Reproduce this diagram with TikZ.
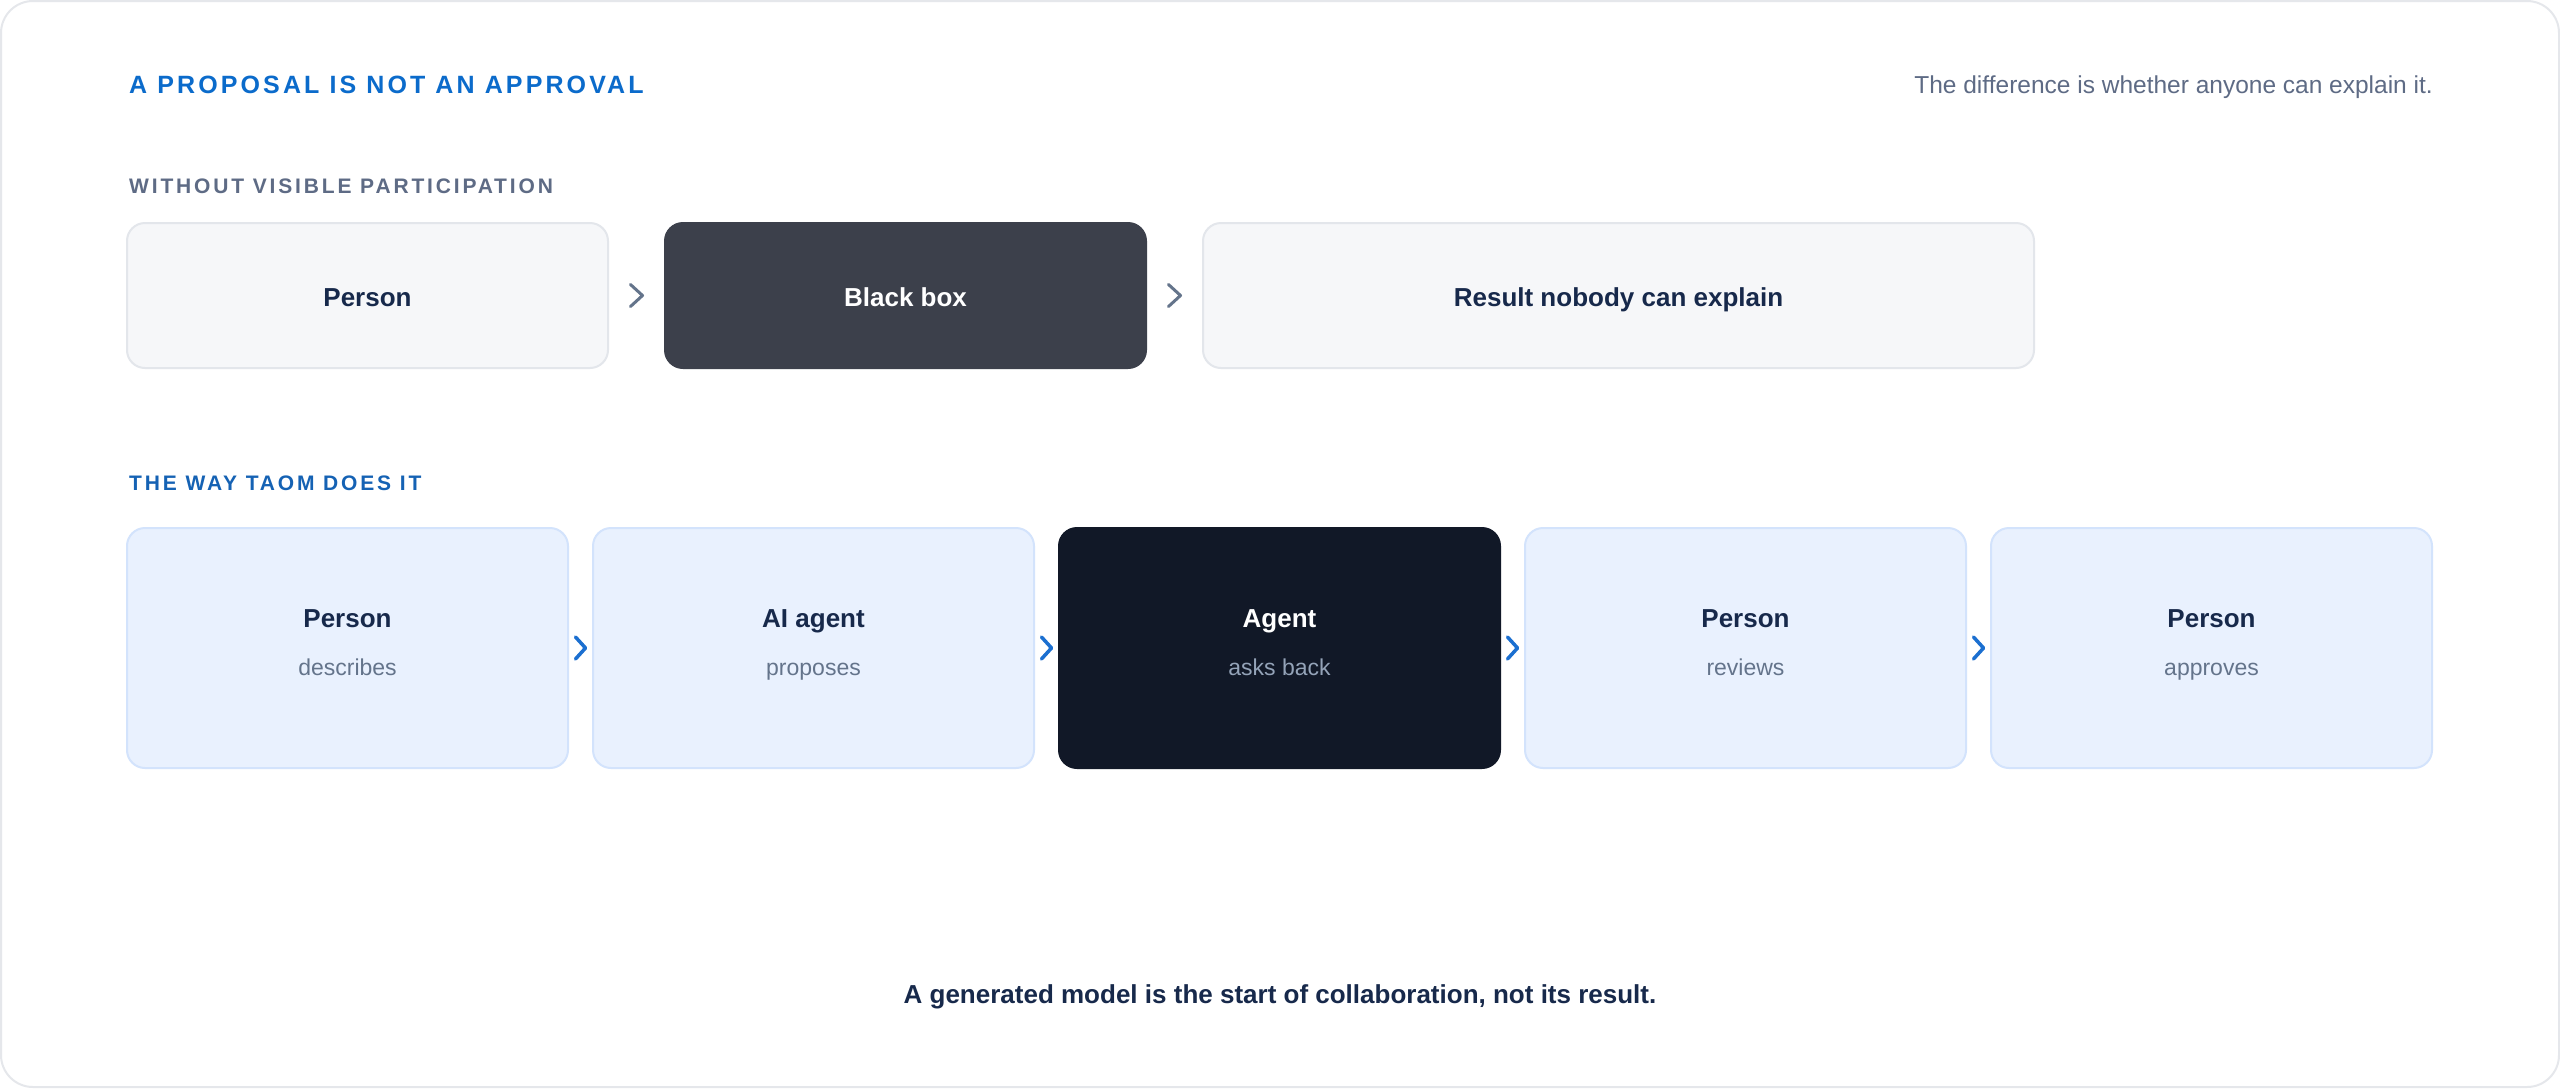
\documentclass[tikz,border=0pt]{standalone}
\usepackage{fontspec}
\setmainfont{Liberation Sans}
\newfontfamily\spacedfont[LetterSpace=13.5]{Liberation Sans}
\newfontfamily\titlefont[LetterSpace=12.5]{Liberation Sans}
\usepackage{tikz}
\usetikzlibrary{calc}

\definecolor{frameline}{HTML}{E5E7EB}
\definecolor{titleblue}{HTML}{0B6BCB}
\definecolor{labelblue}{HTML}{1562B4}
\definecolor{labelgrey}{HTML}{5E6B85}
\definecolor{navy}{HTML}{17294B}
\definecolor{subgrey}{HTML}{64748B}
\definecolor{greyfill}{HTML}{F6F7F9}
\definecolor{greyline}{HTML}{E3E6EB}
\definecolor{blackfill}{HTML}{3C404B}
\definecolor{bluefill}{HTML}{E9F1FE}
\definecolor{blueline}{HTML}{D3E3FC}
\definecolor{darkfill}{HTML}{111827}
\definecolor{paleslate}{HTML}{94A3B8}
\definecolor{chevblue}{HTML}{1B6FD0}

\begin{document}
\begin{tikzpicture}[x=1pt, y=-1pt,
		grey_box/.style={rectangle, rounded corners=18, line width=2, draw=greyline, fill=greyfill, minimum width=481, minimum height=145},
		black_box/.style={grey_box, draw=blackfill, fill=blackfill},
		blue_box/.style={rectangle, rounded corners=18, line width=2, draw=blueline, fill=bluefill, minimum width=441, minimum height=240},
		dark_box/.style={blue_box, draw=darkfill, fill=darkfill},
		head_text/.style={inner sep=0, anchor=base, text=navy, font=\fontsize{26}{30}\selectfont\bfseries},
		sub_text/.style={inner sep=0, anchor=base, text=subgrey, font=\fontsize{23}{28}\selectfont},
		label_text/.style={inner sep=0, anchor=base west, font=\spacedfont\fontsize{21}{26}\selectfont\bfseries},
		chevron_style/.style={line width=3.5, line cap=round, line join=round}]

		\useasboundingbox (0,0) rectangle (2560,1088);
		\draw[line width=2, draw=frameline, fill=white, rounded corners=32] (1,1) rectangle (2559,1087);

		% header
		\node[label_text, text=titleblue, font=\titlefont\fontsize{25}{30}\selectfont\bfseries] (title) at (129,93) {A PROPOSAL IS NOT AN APPROVAL};
		\node[inner sep=0, anchor=base east, text=labelgrey, font=\fontsize{24.5}{29}\selectfont] (note) at (2433,93) {The difference is whether anyone can explain it.};

		% first row
		\node[label_text, text=labelgrey] (lab1) at (129,193) {WITHOUT VISIBLE PARTICIPATION};
		\node[grey_box] (g1) at (367.5,295.5) {};
		\node[black_box] (g2) at (905.5,295.5) {};
		\node[grey_box, minimum width=831] (g3) at (1618.5,295.5) {};
		\node[head_text] (g1t) at (367.5,306) {Person};
		\node[head_text, text=white] (g2t) at (905.5,306) {Black box};
		\node[head_text] (g3t) at (1618.5,306) {Result nobody can explain};

		\draw[chevron_style, line width=3, draw=subgrey] ($(g1.east)!0.5!(g2.west)$) ++(-6,-11) -- ++(12,11) -- ++(-12,11);
		\draw[chevron_style, line width=3, draw=subgrey] ($(g2.east)!0.5!(g3.west)$) ++(-6,-11) -- ++(12,11) -- ++(-12,11);

		% second row
		\node[label_text, text=labelblue] (lab2) at (129,490) {THE WAY TAOM DOES IT};
		\node[blue_box] (t1) at (347.5,648) {};
		\node[blue_box] (t2) at (813.5,648) {};
		\node[dark_box] (t3) at (1279.5,648) {};
		\node[blue_box] (t4) at (1745.5,648) {};
		\node[blue_box] (t5) at (2211.5,648) {};

		\node[head_text] (t1t) at (347.5,627) {Person};
		\node[sub_text] (t1s) at (347.5,675) {describes};
		\node[head_text] (t2t) at (813.5,627) {AI agent};
		\node[sub_text] (t2s) at (813.5,675) {proposes};
		\node[head_text, text=white] (t3t) at (1279.5,627) {Agent};
		\node[sub_text, text=paleslate] (t3s) at (1279.5,675) {asks back};
		\node[head_text] (t4t) at (1745.5,627) {Person};
		\node[sub_text] (t4s) at (1745.5,675) {reviews};
		\node[head_text] (t5t) at (2211.5,627) {Person};
		\node[sub_text] (t5s) at (2211.5,675) {approves};

		\draw[chevron_style, draw=chevblue] ($(t1.east)!0.5!(t2.west)$) ++(-5,-11) -- ++(10,11) -- ++(-10,11);
		\draw[chevron_style, draw=chevblue] ($(t2.east)!0.5!(t3.west)$) ++(-5,-11) -- ++(10,11) -- ++(-10,11);
		\draw[chevron_style, draw=chevblue] ($(t3.east)!0.5!(t4.west)$) ++(-5,-11) -- ++(10,11) -- ++(-10,11);
		\draw[chevron_style, draw=chevblue] ($(t4.east)!0.5!(t5.west)$) ++(-5,-11) -- ++(10,11) -- ++(-10,11);

		% footer
		\node[head_text] (foot) at (1280,1003) {A generated model is the start of collaboration, not its result.};

\end{tikzpicture}
\end{document}
